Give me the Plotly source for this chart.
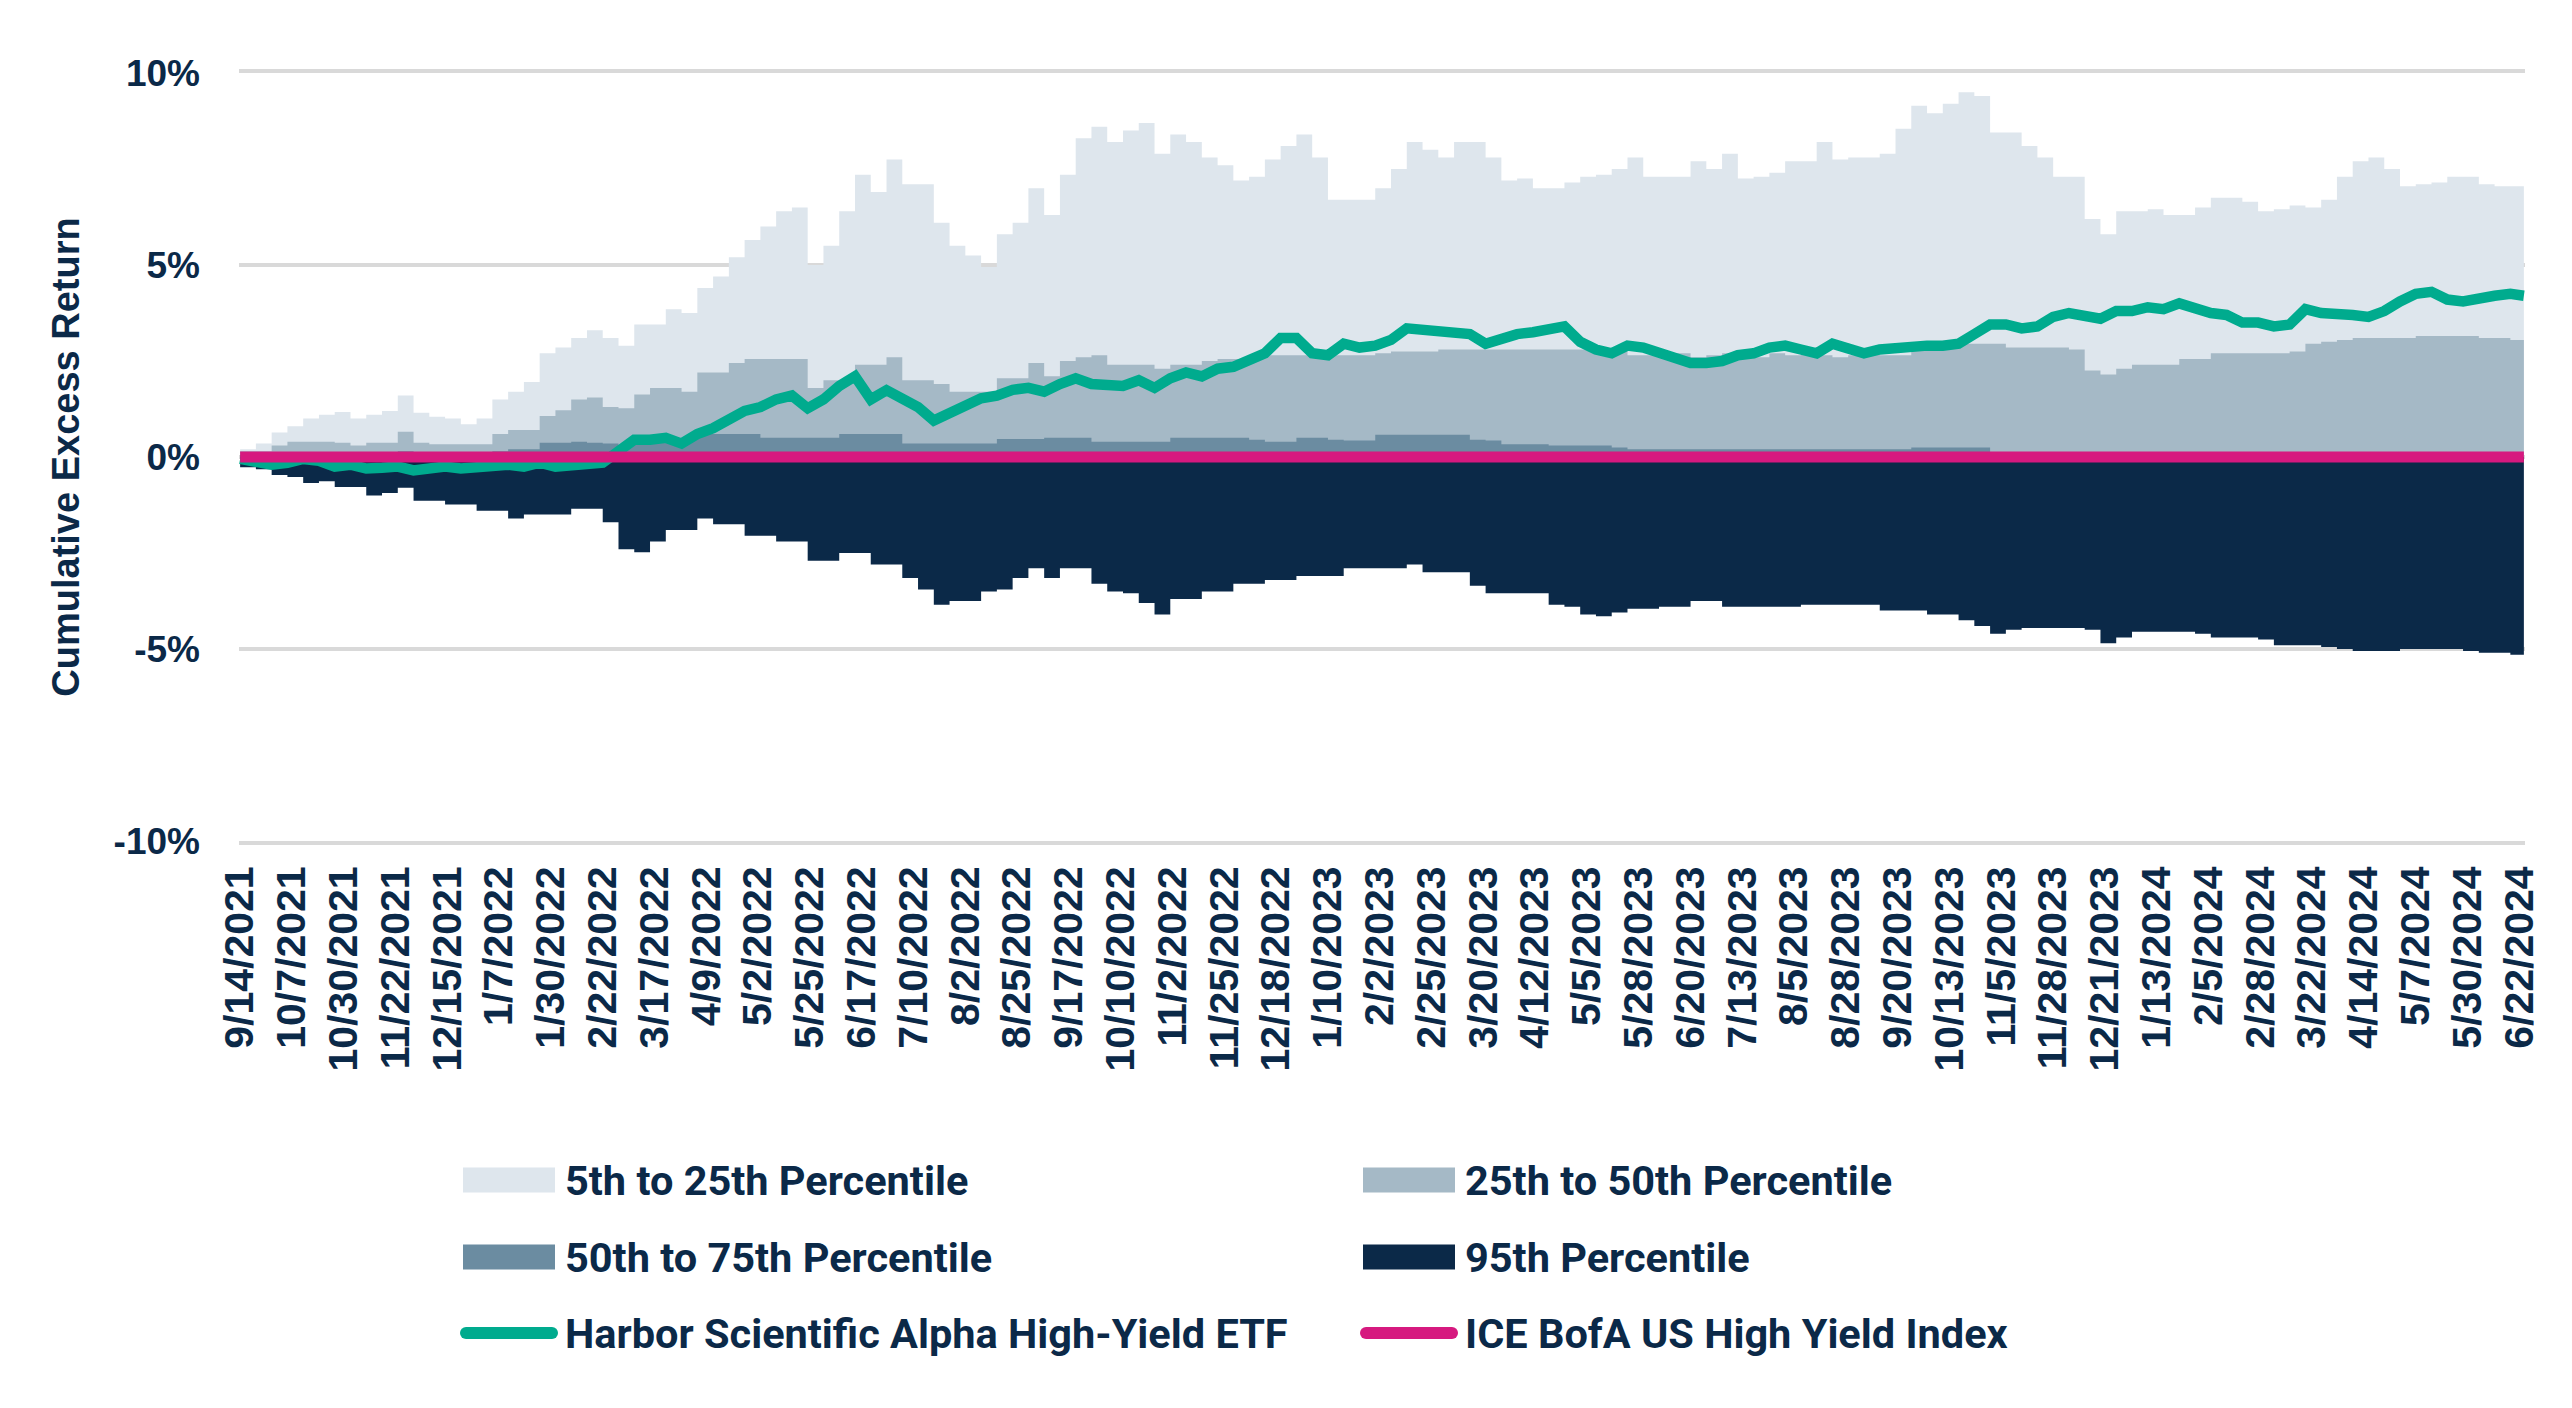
import pandas as pd
import plotly.graph_objects as go

# ---------------- data ----------------
tick_labels = [
    "9/14/2021", "10/7/2021", "10/30/2021", "11/22/2021", "12/15/2021",
    "1/7/2022", "1/30/2022", "2/22/2022", "3/17/2022", "4/9/2022",
    "5/2/2022", "5/25/2022", "6/17/2022", "7/10/2022", "8/2/2022",
    "8/25/2022", "9/17/2022", "10/10/2022", "11/2/2022", "11/25/2022",
    "12/18/2022", "1/10/2023", "2/2/2023", "2/25/2023", "3/20/2023",
    "4/12/2023", "5/5/2023", "5/28/2023", "6/20/2023", "7/13/2023",
    "8/5/2023", "8/28/2023", "9/20/2023", "10/13/2023", "11/5/2023",
    "11/28/2023", "12/21/2023", "1/13/2024", "2/5/2024", "2/28/2024",
    "3/22/2024", "4/14/2024", "5/7/2024", "5/30/2024", "6/22/2024",
]

# weekly samples starting 9/14/2021, last sample 6/24/2024
first_date = "2021-09-14"
last_date = "2024-06-24"

p5_25 = [
    0.2, 0.35, 0.64, 0.8, 1.0, 1.1, 1.17, 1.0, 1.1, 1.2,
    1.6, 1.15, 1.05, 1.0, 0.85, 1.0, 1.5, 1.7, 1.95, 2.7,
    2.85, 3.1, 3.3, 3.1, 2.9, 3.45, 3.45, 3.85, 3.75, 4.4,
    4.7, 5.2, 5.65, 6.0, 6.4, 6.5, 5.0, 5.5, 6.4, 7.35,
    6.9, 7.75, 7.1, 7.1, 6.1, 5.5, 5.25, 4.95, 5.8, 6.1,
    7.0, 6.3, 7.35, 8.3, 8.6, 8.2, 8.5, 8.7, 7.9, 8.4,
    8.2, 7.8, 7.6, 7.2, 7.3, 7.75, 8.1, 8.4, 7.8, 6.7,
    6.7, 6.7, 7.0, 7.5, 8.2, 8.0, 7.8, 8.2, 8.2, 7.8,
    7.2, 7.25, 7.0, 7.0, 7.15, 7.3, 7.35, 7.5, 7.8, 7.3,
    7.3, 7.3, 7.7, 7.5, 7.9, 7.25, 7.3, 7.4, 7.7, 7.7,
    8.2, 7.75, 7.8, 7.8, 7.9, 8.55, 9.15, 8.95, 9.2, 9.5,
    9.4, 8.45, 8.45, 8.1, 7.8, 7.3, 7.3, 6.2, 5.8, 6.4,
    6.4, 6.45, 6.3, 6.3, 6.5, 6.75, 6.75, 6.65, 6.4, 6.45,
    6.55, 6.5, 6.7, 7.3, 7.7, 7.8, 7.5, 7.05, 7.1, 7.15,
    7.3, 7.3, 7.1, 7.05, 7.05,
    7.0,
]

p25_50 = [
    0.15, 0.15, 0.3, 0.4, 0.4, 0.4, 0.37, 0.3, 0.37, 0.37,
    0.66, 0.37, 0.33, 0.33, 0.33, 0.33, 0.6, 0.7, 0.7, 1.07,
    1.22, 1.5, 1.55, 1.3, 1.27, 1.63, 1.8, 1.8, 1.7, 2.2,
    2.2, 2.45, 2.55, 2.55, 2.55, 2.55, 1.8, 2.0, 2.0, 2.4,
    2.4, 2.6, 2.0, 2.0, 1.9, 1.7, 1.7, 1.7, 2.05, 2.05,
    2.45, 2.1, 2.5, 2.6, 2.65, 2.4, 2.4, 2.4, 2.3, 2.4,
    2.4, 2.5, 2.55, 2.55, 2.55, 2.65, 2.65, 2.65, 2.65, 2.65,
    2.65, 2.65, 2.7, 2.75, 2.75, 2.75, 2.8, 2.8, 2.8, 2.8,
    2.8, 2.8, 2.8, 2.8, 2.8, 2.8, 2.8, 2.75, 2.65, 2.65,
    2.65, 2.7, 2.6, 2.65, 2.7, 2.65, 2.6, 2.7, 2.65, 2.7,
    2.65, 2.6, 2.65, 2.7, 2.65, 2.65, 2.95, 2.95, 2.95, 2.95,
    2.95, 2.95, 2.85, 2.85, 2.85, 2.85, 2.8, 2.25, 2.15, 2.3,
    2.4, 2.4, 2.4, 2.55, 2.55, 2.7, 2.7, 2.7, 2.7, 2.7,
    2.75, 2.95, 3.0, 3.05, 3.1, 3.1, 3.1, 3.1, 3.15, 3.15,
    3.15, 3.15, 3.1, 3.1, 3.05,
    3.05,
]

p50_75 = [
    0.05, 0.05, 0.1, 0.1, 0.1, 0.1, 0.1, 0.05, 0.1, 0.1,
    0.15, 0.1, 0.08, 0.08, 0.05, 0.05, 0.15, 0.2, 0.2, 0.37,
    0.37, 0.4, 0.37, 0.35, 0.3, 0.35, 0.4, 0.45, 0.45, 0.6,
    0.6, 0.6, 0.6, 0.5, 0.5, 0.5, 0.5, 0.5, 0.6, 0.6,
    0.6, 0.6, 0.35, 0.35, 0.35, 0.35, 0.35, 0.35, 0.47, 0.47,
    0.47, 0.5, 0.5, 0.5, 0.4, 0.4, 0.4, 0.4, 0.4, 0.5,
    0.5, 0.5, 0.5, 0.5, 0.45, 0.4, 0.4, 0.5, 0.5, 0.45,
    0.43, 0.43, 0.58, 0.58, 0.58, 0.58, 0.58, 0.58, 0.45, 0.43,
    0.33, 0.33, 0.33, 0.3, 0.3, 0.3, 0.3, 0.25, 0.2, 0.2,
    0.2, 0.2, 0.2, 0.2, 0.2, 0.2, 0.2, 0.2, 0.2, 0.2,
    0.2, 0.2, 0.2, 0.2, 0.2, 0.2, 0.25, 0.25, 0.25, 0.25,
    0.25, 0.0, 0.0, 0.0, 0.0, 0.0, 0.0, 0.0, 0.0, 0.0,
    0.0, 0.0, 0.0, 0.0, 0.0, 0.0, 0.0, 0.0, 0.0, 0.0,
    0.0, 0.0, 0.0, 0.0, 0.0, 0.0, 0.0, 0.0, 0.0, 0.0,
    0.0, 0.0, 0.0, 0.0, 0.0,
    0.0,
]

p95 = [
    -0.27, -0.32, -0.47, -0.52, -0.68, -0.63, -0.78, -0.78, -1.0, -0.94,
    -0.8, -1.14, -1.14, -1.24, -1.24, -1.4, -1.4, -1.6, -1.5, -1.5,
    -1.5, -1.35, -1.35, -1.7, -2.4, -2.48, -2.2, -1.9, -1.9, -1.6,
    -1.75, -1.75, -2.05, -2.05, -2.2, -2.2, -2.7, -2.7, -2.5, -2.5,
    -2.8, -2.8, -3.15, -3.45, -3.85, -3.75, -3.75, -3.5, -3.45, -3.15,
    -2.9, -3.15, -2.9, -2.9, -3.3, -3.5, -3.55, -3.8, -4.1, -3.7,
    -3.7, -3.5, -3.5, -3.3, -3.3, -3.2, -3.2, -3.1, -3.1, -3.1,
    -2.9, -2.9, -2.9, -2.9, -2.8, -3.0, -3.0, -3.0, -3.35, -3.55,
    -3.55, -3.55, -3.55, -3.85, -3.9, -4.1, -4.15, -4.05, -3.95, -3.95,
    -3.9, -3.9, -3.75, -3.75, -3.9, -3.9, -3.9, -3.9, -3.9, -3.85,
    -3.85, -3.85, -3.85, -3.85, -4.0, -4.0, -4.0, -4.1, -4.1, -4.25,
    -4.4, -4.6, -4.5, -4.45, -4.45, -4.45, -4.45, -4.5, -4.85, -4.7,
    -4.55, -4.55, -4.55, -4.55, -4.6, -4.7, -4.7, -4.7, -4.75, -4.9,
    -4.9, -4.9, -4.95, -5.0, -5.05, -5.05, -5.05, -5.0, -5.0, -5.0,
    -5.0, -5.05, -5.1, -5.1, -5.15,
    -5.25,
]

harbor_etf = [
    -0.05, -0.15, -0.2, -0.15, -0.05, -0.1, -0.25, -0.2, -0.3, -0.28,
    -0.25, -0.35, -0.28, -0.25, -0.3, -0.28, -0.25, -0.2, -0.25, -0.15,
    -0.25, -0.2, -0.2, -0.15, 0.15, 0.45, 0.45, 0.5, 0.35, 0.6,
    0.75, 1.0, 1.2, 1.3, 1.5, 1.6, 1.27, 1.5, 1.85, 2.1,
    1.5, 1.74, 1.5, 1.3, 0.95, 1.15, 1.38, 1.53, 1.6, 1.75,
    1.8, 1.7, 1.9, 2.05, 1.9, 1.85, 1.85, 2.0, 1.8, 2.05,
    2.2, 2.1, 2.3, 2.35, 2.5, 2.7, 3.1, 3.1, 2.7, 2.65,
    2.95, 2.85, 2.9, 3.05, 3.35, 3.3, 3.3, 3.2, 3.2, 2.95,
    3.1, 3.2, 3.25, 3.3, 3.4, 3.0, 2.8, 2.7, 2.9, 2.85,
    2.7, 2.6, 2.45, 2.45, 2.5, 2.65, 2.7, 2.85, 2.9, 2.8,
    2.7, 2.95, 2.85, 2.7, 2.8, 2.85, 2.85, 2.9, 2.9, 2.95,
    3.2, 3.45, 3.45, 3.35, 3.4, 3.65, 3.75, 3.7, 3.6, 3.8,
    3.8, 3.9, 3.85, 4.0, 3.85, 3.75, 3.7, 3.5, 3.5, 3.4,
    3.45, 3.85, 3.75, 3.75, 3.7, 3.65, 3.8, 4.05, 4.25, 4.3,
    4.1, 4.05, 4.15, 4.2, 4.25,
    4.2,
]

ice_dates = ["2021-09-14", "2024-06-24"]
ice_index = [0.0, 0.0]

series_names = [
    "5th to 25th Percentile",
    "25th to 50th Percentile",
    "50th to 75th Percentile",
    "95th Percentile",
    "Harbor Scientific Alpha High-Yield ETF",
    "ICE BofA US High Yield Index",
]

# ---------------- styling ----------------
C_L = "#dee6ed"
C_M = "#a5b9c6"
C_D = "#6b8ca1"
C_N = "#0b2948"
C_G = "#00ab8e"
C_P = "#d6197f"
TXT = "#0b2948"
GRID = "#d9d9d9"

W, H = 2572, 1408
ML, MR, MT, MB = 239, 47, 73, 567

start = pd.Timestamp(first_date)
dates = [start + pd.Timedelta(days=7 * i) for i in range(len(p5_25) - 1)]
dates.append(pd.Timestamp(last_date))

tickvals = [pd.to_datetime(t, format="%m/%d/%Y") for t in tick_labels]

fig = go.Figure()

for vals, col, name in [
    (p5_25, C_L, series_names[0]),
    (p25_50, C_M, series_names[1]),
    (p50_75, C_D, series_names[2]),
    (p95, C_N, series_names[3]),
]:
    fig.add_trace(go.Scatter(
        x=dates, y=vals, name=name, mode="lines",
        line=dict(width=0, shape="hv", color=col),
        fill="tozeroy", fillcolor=col, showlegend=False,
        hoverinfo="skip",
    ))

fig.add_trace(go.Scatter(
    x=dates, y=harbor_etf, name=series_names[4], mode="lines",
    line=dict(width=10.5, color=C_G), showlegend=False,
))
fig.add_trace(go.Scatter(
    x=ice_dates, y=ice_index, name=series_names[5], mode="lines",
    line=dict(width=11, color=C_P), showlegend=False,
))

# ---------------- manual legend (2 columns x 3 rows) ----------------
plot_w = W - ML - MR
plot_h = H - MT - MB


def px_x(px):
    return (px - ML) / plot_w


def px_y(py):
    return (H - MB - py) / plot_h


rows_y = [1180, 1257, 1333]
cols = [(463, 555, 563), (1363, 1455, 1463)]
legend_items = [
    (series_names[0], C_L, "rect"),
    (series_names[1], C_M, "rect"),
    (series_names[2], C_D, "rect"),
    (series_names[3], C_N, "rect"),
    (series_names[4], C_G, "line"),
    (series_names[5], C_P, "line"),
]
shapes = []
annotations = []
for i, (name, col, kind) in enumerate(legend_items):
    r, c = divmod(i, 2)
    x0, x1, xt = cols[c]
    yc = rows_y[r]
    if kind == "rect":
        shapes.append(dict(
            type="rect", xref="paper", yref="paper",
            x0=px_x(x0), x1=px_x(x1), y0=px_y(yc - 12.5), y1=px_y(yc + 12.5),
            fillcolor=col, line=dict(width=0),
        ))
    else:
        shapes.append(dict(
            type="line", xref="paper", yref="paper",
            x0=px_x(x0 + 3), x1=px_x(x1 - 3), y0=px_y(yc), y1=px_y(yc),
            line=dict(color=col, width=12),
        ))
        for xe in (x0 + 3, x1 - 3):
            shapes.append(dict(
                type="circle", xref="paper", yref="paper",
                x0=px_x(xe - 6), x1=px_x(xe + 6), y0=px_y(yc + 6), y1=px_y(yc - 6),
                fillcolor=col, line=dict(width=0),
            ))
    annotations.append(dict(
        text=name, xref="paper", yref="paper", x=px_x(xt), y=px_y(yc),
        xanchor="left", yanchor="middle", showarrow=False,
        font=dict(family="Roboto", size=41.5, color=TXT, weight="bold"),
    ))

fig.update_layout(
    width=W, height=H,
    margin=dict(l=ML, r=MR, t=MT, b=MB, autoexpand=False),
    paper_bgcolor="white", plot_bgcolor="white",
    showlegend=False,
    shapes=shapes, annotations=annotations,
    font=dict(family="Liberation Sans", color=TXT),
)

fig.update_xaxes(
    type="date",
    range=["2021-09-13 12:00", "2024-06-24 12:00"],
    tickmode="array", tickvals=tickvals, ticktext=tick_labels,
    tickangle=-90, ticks="", showgrid=False, zeroline=False,
    showline=True, mirror=True, linecolor=GRID, linewidth=4,
    tickfont=dict(family="Liberation Sans", size=41, color=TXT, weight="bold"),
    ticklabelstandoff=5, automargin=False,
)
fig.update_yaxes(
    range=[-10, 10],
    tickmode="array", tickvals=[-10, -5, 0, 5, 10],
    ticktext=["-10%", "-5%", "0%", "5%", "10%"],
    ticks="", showgrid=True, gridcolor=GRID, gridwidth=4, zeroline=False,
    showline=False,
    tickfont=dict(family="Liberation Sans", size=37, color=TXT, weight="bold"),
    ticklabelstandoff=38, automargin=False,
    title=dict(text="Cumulative Excess Return", standoff=22,
               font=dict(family="Liberation Sans", size=38, color=TXT, weight="bold")),
)

fig.write_html("out.html", config={"displayModeBar": False},
               post_script="document.body.style.margin='0';")
